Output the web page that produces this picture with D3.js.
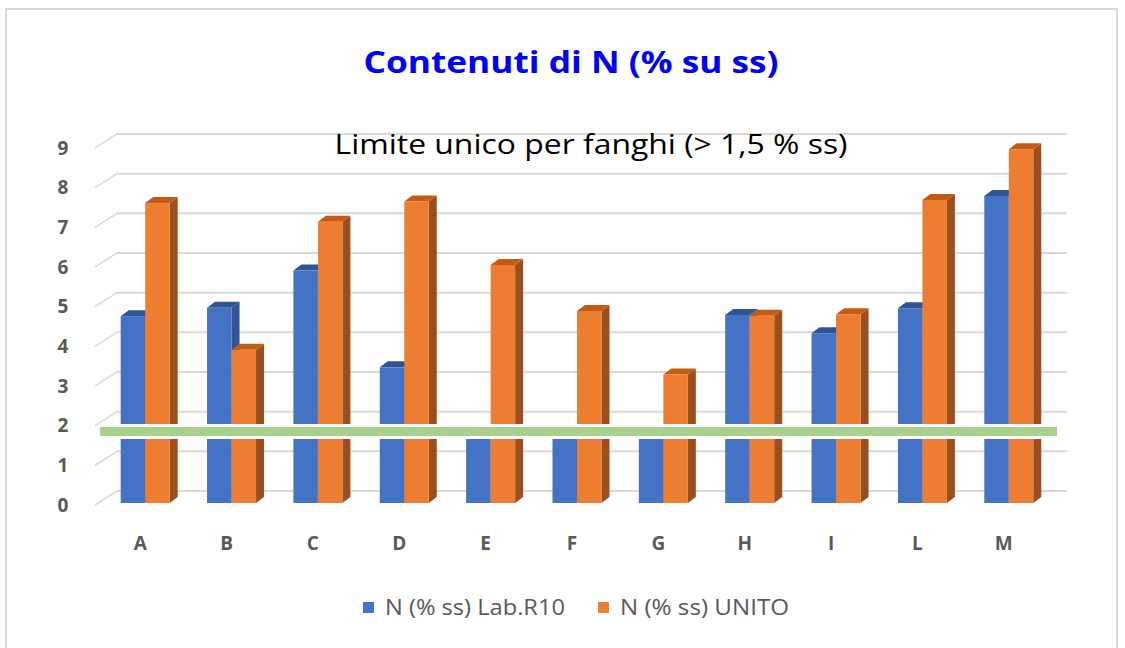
<!DOCTYPE html>
<html>
<head>
<meta charset="utf-8">
<script src="https://cdn.jsdelivr.net/npm/d3@7"></script>
<style>
  body { margin: 0; background: #fff; }
  svg { display: block; font-family: "Open Sans", sans-serif; }
</style>
</head>
<body>
<div id="chart"></div>
<script>
// data
const categories = ["A", "B", "C", "D", "E", "F", "G", "H", "I", "L", "M"];
const labR10 = [4.71, 4.92, 5.86, 3.42, 1.7, 1.7, 1.7, 4.74, 4.28, 4.91, 7.74];
const unito = [7.56, 3.86, 7.09, 7.6, 6.0, 4.84, 3.24, 4.72, 4.76, 7.64, 8.92];
const seriesNames = ["N (% ss) Lab.R10", "N (% ss) UNITO"];
const yTicks = [0, 1, 2, 3, 4, 5, 6, 7, 8, 9];
const limite = 1.5;

function drawChart() {
    const width = 1125;
    const height = 648;
    const svg = d3.select("#chart")
        .append("svg")
        .attr("width", width)
        .attr("height", height);

    // outer frame
    svg.append("rect")
        .attr("x", 6).attr("y", 9)
        .attr("width", 1111).attr("height", 680)
        .attr("fill", "none")
        .attr("stroke", "#d9d9d9")
        .attr("stroke-width", 2);

    // 3d-ish depth offsets
    const depthX = 22, depthY = -14;

    const x = d3.scaleBand()
        .domain(categories)
        .range([95, 95 + 11 * 86.36]);

    const yFront = d3.scaleLinear().domain([0, 9]).range([505, 505 - 9 * 39.67]);
    const yBack = d3.scaleLinear().domain([0, 9]).range([505 + depthY, 505 + depthY - 9 * 39.67]);
    const yBar = d3.scaleLinear().domain([0, 9]).range([503, 503 - 9 * 39.67]);

    // gridlines: back wall + slanted left part
    const grid = svg.append("g");
    yTicks.forEach(t => {
        grid.append("line")
            .attr("x1", 95 + depthX).attr("x2", x.range()[1] + depthX)
            .attr("y1", yBack(t)).attr("y2", yBack(t))
            .attr("stroke", "#d9d9d9").attr("stroke-width", 2);
        grid.append("line")
            .attr("x1", 95).attr("x2", 95 + depthX)
            .attr("y1", yFront(t)).attr("y2", yBack(t))
            .attr("stroke", "#d9d9d9").attr("stroke-width", 1.5);
    });

    // y axis labels
    svg.append("g").selectAll("text")
        .data(yTicks)
        .enter().append("text")
        .attr("x", 63)
        .attr("y", d => yFront(d))
        .attr("dy", "0.35em")
        .attr("text-anchor", "middle")
        .attr("font-size", 19)
        .attr("font-weight", "bold")
        .attr("fill", "#595959")
        .text(d => d);

    // x axis labels
    svg.append("g").selectAll("text")
        .data(categories)
        .enter().append("text")
        .attr("x", d => x(d) + x.bandwidth() / 2 + 2)
        .attr("y", 543)
        .attr("dy", "0.35em")
        .attr("text-anchor", "middle")
        .attr("font-size", 19)
        .attr("font-weight", "bold")
        .attr("fill", "#595959")
        .text(d => d);

    // bars
    const barW = 24.5;
    const bdx = 8, bdy = -6;
    const offX = 7;
    const colors = [
        { front: "#4472c4", top: "#2f5597", side: "#2f5597" },
        { front: "#ed7d31", top: "#c55a11", side: "#9c4f1e" }
    ];
    const series = [labR10, unito];

    const bars = svg.append("g");
    categories.forEach((c, i) => {
        const cx = x(c) + x.bandwidth() / 2 + offX;
        series.forEach((vals, s) => {
            const x0 = cx - barW + s * barW;
            const y0 = yBar(0);
            const y1 = yBar(vals[i]);
            const col = colors[s];
            const g = bars.append("g");
            // side
            g.append("path")
                .attr("d", `M${x0 + barW},${y1} L${x0 + barW + bdx},${y1 + bdy} L${x0 + barW + bdx},${y0 + bdy} L${x0 + barW},${y0} Z`)
                .attr("fill", col.side);
            // top
            g.append("path")
                .attr("d", `M${x0},${y1} L${x0 + bdx},${y1 + bdy} L${x0 + barW + bdx},${y1 + bdy} L${x0 + barW},${y1} Z`)
                .attr("fill", col.top);
            // front
            g.append("rect")
                .attr("x", x0).attr("y", y1)
                .attr("width", barW).attr("height", y0 - y1)
                .attr("fill", col.front);
        });
    });

    // limit line with white halo
    const ly = yBack(limite);
    svg.append("rect")
        .attr("x", 100).attr("y", ly - 7.5)
        .attr("width", 957).attr("height", 15)
        .attr("fill", "#fff");
    svg.append("rect")
        .attr("x", 100).attr("y", ly - 4.5)
        .attr("width", 957).attr("height", 9)
        .attr("fill", "#a9d18e");

    // title
    svg.append("text")
        .attr("x", 571).attr("y", 73)
        .attr("text-anchor", "middle")
        .attr("font-size", 30)
        .attr("font-weight", "bold")
        .attr("fill", "#0000ff")
        .attr("textLength", 415)
        .attr("lengthAdjust", "spacingAndGlyphs")
        .text("Contenuti di N (% su ss)");

    // subtitle
    svg.append("text")
        .attr("x", 591).attr("y", 154)
        .attr("text-anchor", "middle")
        .attr("font-size", 27)
        .attr("fill", "#000")
        .attr("textLength", 513)
        .attr("lengthAdjust", "spacingAndGlyphs")
        .text("Limite unico per fanghi (> 1,5 % ss)");

    // legend
    const legend = svg.append("g");
    const legX = [363, 598];
    const legLen = [180, 169];
    seriesNames.forEach((n, s) => {
        legend.append("rect")
            .attr("x", legX[s]).attr("y", 602)
            .attr("width", 11).attr("height", 11)
            .attr("fill", colors[s].front);
        legend.append("text")
            .attr("x", legX[s] + 22).attr("y", 608)
            .attr("dy", "0.35em")
            .attr("font-size", 21)
            .attr("fill", "#595959")
            .attr("textLength", legLen[s])
            .attr("lengthAdjust", "spacingAndGlyphs")
            .text(n);
    });
}

drawChart();
</script>
</body>
</html>
